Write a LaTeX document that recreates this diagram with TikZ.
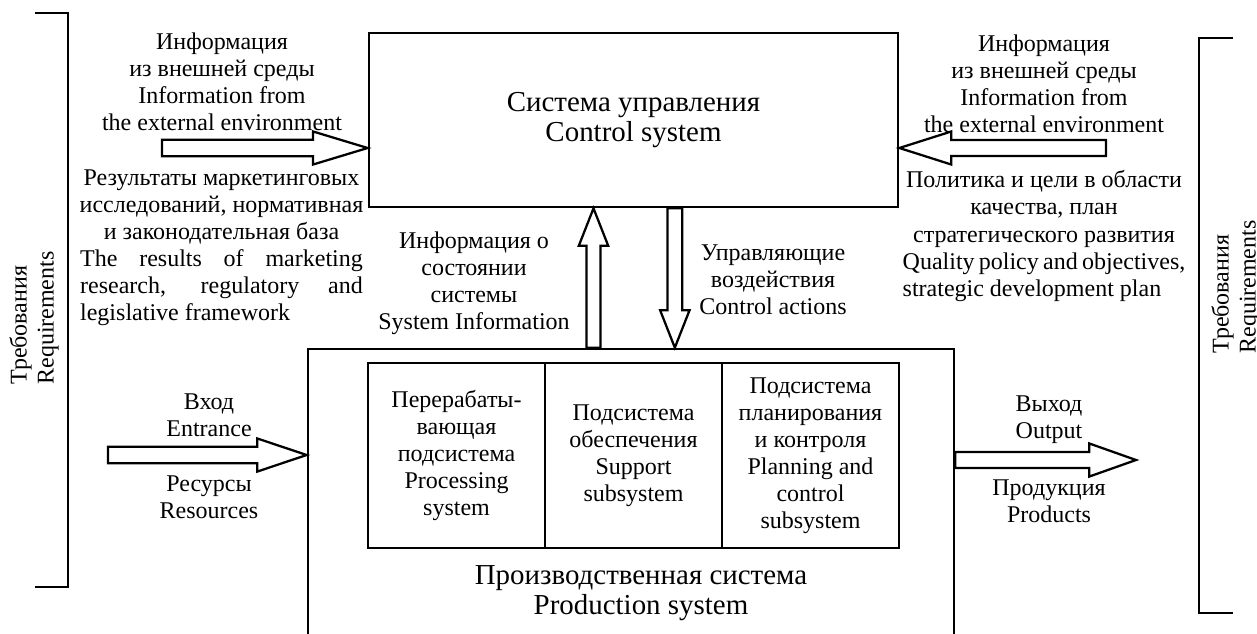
\documentclass[tikz,border=0pt]{standalone}
\usepackage{fontspec}
\setmainfont{Liberation Serif}
\usepackage{tikz}
\usetikzlibrary{positioning, calc}

\newcommand{\smallfont}{\fontsize{18}{20.3}\selectfont}
\newcommand{\bigfont}{\fontsize{21.7}{22.5}\selectfont}
\newcommand{\jline}[1]{\makebox[212pt][s]{#1}}
\newcommand{\lline}[1]{\makebox[212pt][l]{#1}}

% block arrow: from, to, head length, head half width, shaft half width
\newcommand{\blockarrow}[5]{%
  \coordinate (ba-s) at (#1);
  \coordinate (ba-e) at (#2);
  \coordinate (ba-h) at ($(ba-e)!#3!(ba-s)$);
  \draw[blockline] ($(ba-s)!#5!90:(ba-e)$) -- ($(ba-h)!#5!90:(ba-e)$) -- ($(ba-h)!#4!90:(ba-e)$) -- (ba-e)
    -- ($(ba-h)!#4!-90:(ba-e)$) -- ($(ba-h)!#5!-90:(ba-e)$) -- ($(ba-s)!#5!-90:(ba-e)$) -- cycle;
}

\begin{document}
\begin{tikzpicture}[x=0.75pt, y=-0.75pt]

    % --- Styles ---
    \tikzset{
        sysbox/.style={rectangle, draw=black, line width=2pt, font=\bigfont, align=center},
        subbox/.style={rectangle, draw=black, line width=2pt, minimum width=132.75pt, minimum height=138.75pt, outer sep=0pt, inner sep=0pt, font=\smallfont, align=center},
        lbl/.style={font=\smallfont, align=center, inner sep=0pt},
        req/.style={font=\smallfont, align=left, rotate=90, inner sep=0pt},
        blockline/.style={line width=1.7pt, line join=miter},
        brace/.style={line width=2pt}
    }

    \useasboundingbox (0,0) rectangle (1257,633);
    \clip (0,0) rectangle (1257,633);

    % --- Systems ---
    \node (ctrl) [sysbox, minimum width=396.75pt, minimum height=130.5pt] at (633.5,120) {Система управления\\Control system};
    \node (prod) [sysbox, minimum width=484.5pt, minimum height=225.75pt] at (631,499.5) {};
    \node (prodlbl) [lbl, font=\bigfont] at (641,593.5) {Производственная система\\Production system};

    % --- Subsystems ---
    \node (sub1) [subbox] at (456.5,455.5) {Перерабаты-\\вающая\\подсистема\\Processing\\system};
    \node (sub2) [subbox, right=0pt of sub1] {Подсистема\\обеспечения\\Support\\subsystem};
    \node (sub3) [subbox, right=0pt of sub2] {Подсистема\\планирования\\и контроля\\Planning and\\control\\subsystem};

    % --- Labels ---
    \node (envL) [lbl] at (222,82) {Информация\\из внешней среды\\Information from\\the external environment};
    \node (envR) [lbl] at (1044,84) {Информация\\из внешней среды\\Information from\\the external environment};
    \node (mktL) [lbl] at (221.5,248) {Результаты маркетинговых\\исследований, нормативная\\и законодательная база\\\jline{The results of marketing}\\\jline{research, regulatory and}\\\lline{legislative framework}};
    \node (polR) [lbl] at (1044,236) {Политика и цели в области\\качества, план\\стратегического развития\\\jline{Quality policy and objectives,}\\\lline{strategic development plan}};
    \node (sysinfo) [lbl] at (474,283.5) {Информация о\\состоянии\\системы\\System Information};
    \node (ctrlact) [lbl] at (773,280) {Управляющие\\воздействия\\Control actions};
    \node (inlbl) [lbl] at (209,415) {Вход\\Entrance};
    \node (reslbl) [lbl] at (209,497.5) {Ресурсы\\Resources};
    \node (outlbl) [lbl] at (1049,420) {Выход\\Output};
    \node (prodout) [lbl] at (1049,501.5) {Продукция\\Products};
    \node (reqL) [req] at (34,318) {Требования\\Requirements};
    \node (reqR) [req] at (1236,287) {Требования\\Requirements};

    % --- Free ends ---
    \coordinate (inA) at (162,148);
    \coordinate (inB) at (1106,148);
    \coordinate (inC) at (108,455);
    \coordinate (outC) at (1136,460);
    \coordinate (upt) at ([xshift=-30pt]ctrl.south);
    \coordinate (dnt) at ([xshift=31pt]ctrl.south);

    % --- Arrows ---
    \blockarrow{inA}{inA -| ctrl.west}{41pt}{12.4pt}{6.2pt}
    \blockarrow{inB}{inB -| ctrl.east}{39pt}{12.4pt}{6pt}
    \blockarrow{upt |- prod.north}{upt}{28pt}{11pt}{5.3pt}
    \blockarrow{dnt}{dnt |- prod.north}{28pt}{11pt}{5.5pt}
    \blockarrow{inC}{inC -| prod.west}{37pt}{12.4pt}{6.2pt}
    \blockarrow{outC -| prod.east}{outC}{35pt}{12.4pt}{6pt}

    % --- Requirements brackets ---
    \draw[brace] (35,13) -| (68,587) -- (35,587);
    \draw[brace] (1233,38) -| (1199,613) -- (1233,613);

\end{tikzpicture}
\end{document}
